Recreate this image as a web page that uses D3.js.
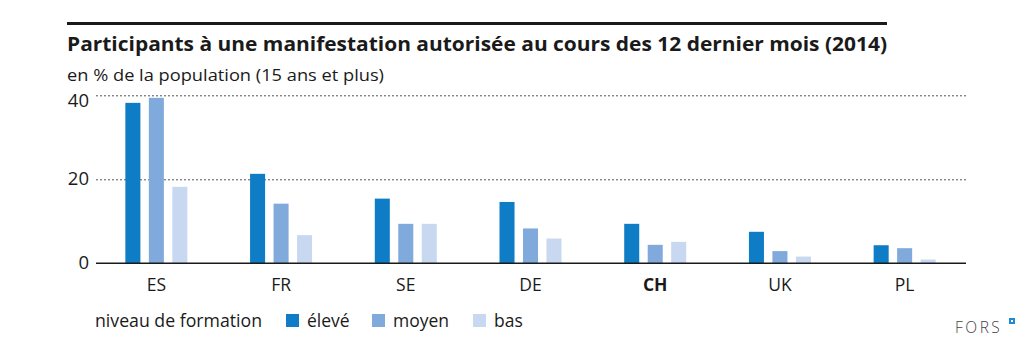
<!DOCTYPE html>
<html lang="fr">
  <head>
    <meta charset="UTF-8" />
    <title>Participants à une manifestation autorisée</title>
    <script src="https://d3js.org/d3.v7.min.js"></script>
    <style>
      body {
        margin: 0;
        background: #fff;
        font-family: "Open Sans", "Noto Sans", sans-serif;
      }
      .gridlines line {
        stroke: #555;
        stroke-dasharray: 2 2;
      }
      .gridlines .domain {
        stroke: none;
      }
    </style>
  </head>
  <body>
    <svg width="1035" height="354" id="chart"></svg>

    <script>
      // data
      const countries = ["ES", "FR", "SE", "DE", "CH", "UK", "PL"];
      const levels = ["élevé", "moyen", "bas"];
      const eleve = [38.2, 21.3, 15.4, 14.6, 9.4, 7.5, 4.3];
      const moyen = [39.4, 14.2, 9.4, 8.3, 4.4, 2.9, 3.6];
      const bas = [18.2, 6.7, 9.4, 5.9, 5.1, 1.6, 0.9];
      const yTicks = [0, 20, 40];

      const series = [eleve, moyen, bas];
      const data = [];
      countries.forEach((c, i) => {
        levels.forEach((l, j) => {
          data.push({ country: c, level: l, value: series[j][i] });
        });
      });

      const svg = d3.select("#chart");

      const color = d3
        .scaleOrdinal()
        .domain(levels)
        .range(["#0f7dc5", "#80a9dc", "#c8d8f0"]);

      // top rule + title
      svg
        .append("rect")
        .attr("x", 67)
        .attr("y", 22)
        .attr("width", 820)
        .attr("height", 3)
        .attr("fill", "#1a1a1a");

      svg
        .append("text")
        .attr("x", 67)
        .attr("y", 51)
        .attr("font-size", 19.5)
        .attr("font-weight", "bold")
        .attr("fill", "#1a1a1a")
        .attr("textLength", 820)
        .attr("lengthAdjust", "spacingAndGlyphs")
        .text("Participants à une manifestation autorisée au cours des 12 dernier mois (2014)");

      svg
        .append("text")
        .attr("x", 67)
        .attr("y", 81)
        .attr("font-size", 16.5)
        .attr("fill", "#1a1a1a")
        .attr("textLength", 317)
        .attr("lengthAdjust", "spacingAndGlyphs")
        .text("en % de la population (15 ans et plus)");

      const x0 = d3.scaleBand().domain(countries).range([94, 967]);
      const x1 = d3
        .scaleBand()
        .domain(levels)
        .range([0, 62])
        .paddingInner(0.36);

      const y = d3.scaleLinear().domain([0, 40]).range([263.3, 95.3]);

      // dotted gridlines
      svg
        .append("g")
        .attr("class", "gridlines")
        .attr("transform", "translate(96,0)")
        .call(
          d3
            .axisLeft(y)
            .tickValues(yTicks.filter((t) => t > 0))
            .tickSize(-870)
            .tickFormat("")
        );

      // y labels
      svg
        .append("g")
        .selectAll("text")
        .data(yTicks)
        .join("text")
        .attr("x", 89)
        .attr("y", (d) => y(d) + (d === 40 ? 7 : 1))
        .attr("dominant-baseline", "middle")
        .attr("text-anchor", "end")
        .attr("font-size", 18.5)
        .attr("fill", "#1a1a1a")
        .text((d) => d);

      // bars
      svg
        .append("g")
        .selectAll("rect")
        .data(data)
        .join("rect")
        .attr("x", (d) => x0(d.country) + x0.bandwidth() / 2 - 31 + x1(d.level))
        .attr("y", (d) => y(d.value))
        .attr("width", x1.bandwidth())
        .attr("height", (d) => y(0) - y(d.value))
        .attr("fill", (d) => color(d.level));

      // baseline
      svg
        .append("line")
        .attr("x1", 96)
        .attr("x2", 966)
        .attr("y1", y(0))
        .attr("y2", y(0))
        .attr("stroke", "#1a1a1a")
        .attr("stroke-width", 1.5);

      // category labels
      svg
        .append("g")
        .selectAll("text")
        .data(countries)
        .join("text")
        .attr("x", (d) => x0(d) + x0.bandwidth() / 2)
        .attr("y", 291)
        .attr("text-anchor", "middle")
        .attr("font-size", 17.5)
        .attr("font-weight", (d) => (d === "CH" ? "bold" : "normal"))
        .attr("fill", "#1a1a1a")
        .text((d) => d);

      // legend
      svg
        .append("text")
        .attr("x", 95)
        .attr("y", 327)
        .attr("font-size", 17.5)
        .attr("fill", "#1a1a1a")
        .attr("textLength", 167)
        .attr("lengthAdjust", "spacingAndGlyphs")
        .text("niveau de formation");

      const legendX = [286, 372, 473];
      levels.forEach((l, i) => {
        svg
          .append("rect")
          .attr("x", legendX[i])
          .attr("y", 314)
          .attr("width", 13)
          .attr("height", 13)
          .attr("fill", color(l));
        svg
          .append("text")
          .attr("x", legendX[i] + 21)
          .attr("y", 327)
          .attr("font-size", 17.5)
          .attr("fill", "#1a1a1a")
          .text(l);
      });

      // logo
      svg
        .append("text")
        .attr("x", 955)
        .attr("y", 333)
        .attr("font-size", 15.5)
        .attr("font-weight", 300)
        .attr("letter-spacing", 2.5)
        .attr("fill", "#444")
        .text("FORS");
      svg
        .append("rect")
        .attr("x", 1009)
        .attr("y", 318)
        .attr("width", 6)
        .attr("height", 6)
        .attr("fill", "#1c8ad6");
      svg
        .append("rect")
        .attr("x", 1011)
        .attr("y", 320)
        .attr("width", 2)
        .attr("height", 2)
        .attr("fill", "#fff");
    </script>
  </body>
</html>
